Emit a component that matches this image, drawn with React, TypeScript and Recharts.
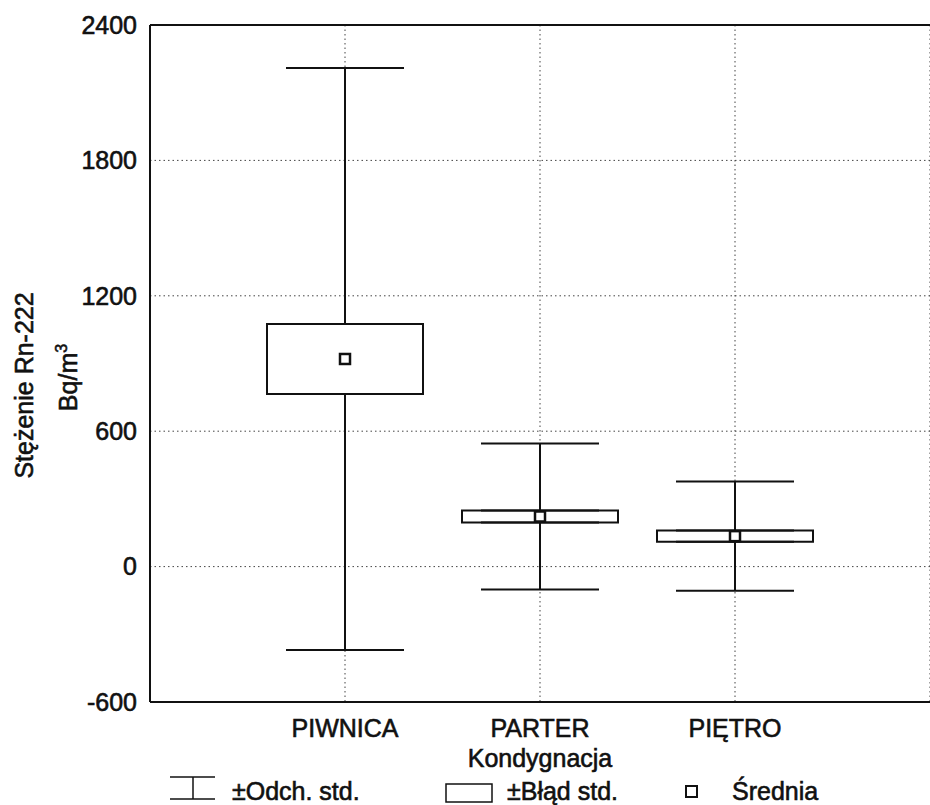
import React from 'react';
import { ComposedChart, Scatter, ErrorBar, XAxis, YAxis, CartesianGrid, ReferenceArea, ReferenceLine } from 'recharts';

// Stężenie Rn-222 wg kondygnacji: średnia, ±błąd std., ±odch. std.
const KATEGORIE = ['PIWNICA', 'PARTER', 'PIĘTRO'];
const SREDNIA = [920, 222, 135];
const ODCH_STD = [1290, 324, 242];
const BLAD_STD = [155, 27, 25];
const Y_TICKI = [-600, 0, 600, 1200, 1800, 2400];
const X_TICKI = [1, 2, 3];

const FONT = '"Liberation Sans", Arial, sans-serif';
const CZARNY = '#111';
const POL_PUDELKA = 0.4;
const GRUBOSC = 0.6;

const wiersze = KATEGORIE.map((k, i) => ({
  x: i + 1,
  srednia: SREDNIA[i],
  gora: SREDNIA[i] + BLAD_STD[i],
  dol: SREDNIA[i] - BLAD_STD[i],
  reszta: ODCH_STD[i] - BLAD_STD[i],
}));

const wasyGora = wiersze.map(w => ({ x: w.x, y: w.gora, err: [0, w.reszta] }));
const wasyDol = wiersze.map(w => ({ x: w.x, y: w.dol, err: [w.reszta, 0] }));
const punkty = wiersze.map(w => ({ x: w.x, y: w.srednia }));

const Kwadrat = (props: any) => {
  const { cx, cy } = props;
  if (cx == null || cy == null) return null;
  return <rect x={cx - 5} y={cy - 5} width={10} height={10} fill="#fff" stroke={CZARNY} strokeWidth={2.5} />;
};

const Pusty = () => <g />;

const EtykietaY = (props: any) => {
  const vb = props.viewBox || { y: 25, height: 677 };
  const cy = vb.y + vb.height / 2 + 22;
  return (
    <g fontFamily={FONT} fontSize={25} fill={CZARNY} stroke={CZARNY} strokeWidth={GRUBOSC}>
      <text x={33} y={cy} transform={`rotate(-90 33 ${cy})`} textAnchor="middle">Stężenie Rn-222</text>
      <text x={77} y={cy - 8} transform={`rotate(-90 77 ${cy - 8})`} textAnchor="middle">
        Bq/m<tspan dy={-10} fontSize={16}>3</tspan>
      </text>
    </g>
  );
};

const EtykietaX = (props: any) => {
  const vb = props.viewBox || { x: 150, y: 702, width: 780 };
  const y0 = vb.y;
  const ly = y0 + 98;
  return (
    <g fontFamily={FONT} fontSize={25} fill={CZARNY}>
      <text x={540} y={y0 + 65} textAnchor="middle" stroke={CZARNY} strokeWidth={GRUBOSC}>Kondygnacja</text>
      {/* legenda */}
      <g stroke={CZARNY} strokeWidth={1.5} fill="none">
        <line x1={170} x2={215} y1={y0 + 75} y2={y0 + 75} />
        <line x1={170} x2={215} y1={y0 + 97} y2={y0 + 97} />
        <line x1={193} x2={193} y1={y0 + 75} y2={y0 + 97} />
        <rect x={446} y={y0 + 82} width={46} height={18} />
        <rect x={686} y={y0 + 84} width={11} height={11} strokeWidth={2} />
      </g>
      <g stroke={CZARNY} strokeWidth={GRUBOSC}>
        <text x={232} y={ly}>±Odch. std.</text>
        <text x={507} y={ly}>±Błąd std.</text>
        <text x={732} y={ly}>Średnia</text>
      </g>
    </g>
  );
};

const stylTicka = { fontSize: 25, fill: CZARNY, fontFamily: FONT, stroke: CZARNY, strokeWidth: GRUBOSC };

export default function App() {
  return (
    <div style={{ width: 930, height: 805, background: '#fff' }}>
      <style>{'body{margin:0}'}</style>
      <ComposedChart width={930} height={805} margin={{ top: 25, right: 0, bottom: 0, left: 0 }}>
        <CartesianGrid strokeDasharray="1.5 3" stroke="#444" strokeWidth={1} />
        <XAxis type="number" dataKey="x" domain={[0, 4]} ticks={X_TICKI} height={103}
          allowDataOverflow tickLine={false} tickMargin={11}
          tickFormatter={(v: number) => KATEGORIE[v - 1] ?? ''}
          tick={stylTicka}
          axisLine={{ stroke: CZARNY, strokeWidth: 2 }}
          label={<EtykietaX />} />
        <YAxis type="number" dataKey="y" domain={[-600, 2400]} ticks={Y_TICKI} width={150}
          allowDataOverflow tickLine={false} tickMargin={7}
          tick={stylTicka}
          axisLine={{ stroke: CZARNY, strokeWidth: 2 }}
          label={<EtykietaY />} />
        <ReferenceLine y={2400} stroke={CZARNY} strokeWidth={2} />
        {wiersze.map(w => (
          <ReferenceArea key={w.x} x1={w.x - POL_PUDELKA} x2={w.x + POL_PUDELKA} y1={w.dol} y2={w.gora}
            fill="#fff" fillOpacity={1} stroke={CZARNY} strokeWidth={2} ifOverflow="visible" />
        ))}
        <Scatter data={wasyGora} shape={<Pusty />} isAnimationActive={false}>
          <ErrorBar dataKey="err" direction="y" width={59} stroke={CZARNY} strokeWidth={2} isAnimationActive={false} />
        </Scatter>
        <Scatter data={wasyDol} shape={<Pusty />} isAnimationActive={false}>
          <ErrorBar dataKey="err" direction="y" width={59} stroke={CZARNY} strokeWidth={2} isAnimationActive={false} />
        </Scatter>
        <Scatter data={punkty} shape={<Kwadrat />} isAnimationActive={false} />
      </ComposedChart>
    </div>
  );
}
